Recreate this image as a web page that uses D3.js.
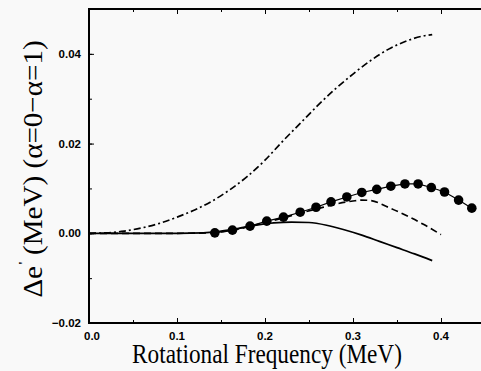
<!DOCTYPE html>
<html>
<head>
<meta charset="utf-8">
<script src="https://cdn.jsdelivr.net/npm/d3@7"></script>
<style>
  html, body { margin: 0; padding: 0; background: #f9f9f9; }
  svg { display: block; }
  .tick-label { font-family: "Liberation Sans", Arial, sans-serif; font-weight: bold; font-size: 11.5px; }
  .axis-title { font-family: "Liberation Serif", "Times New Roman", serif; font-size: 28px; }
</style>
</head>
<body>
<div id="chart"></div>
<script>
// dash-dot curve
const dashDotX = [0, 0.02, 0.04, 0.06, 0.08, 0.10, 0.12, 0.14, 0.16, 0.18, 0.20, 0.22, 0.24, 0.26, 0.28, 0.30, 0.32, 0.34, 0.36, 0.38, 0.39];
const dashDotY = [0, 0.0001, 0.0005, 0.0012, 0.0022, 0.0036, 0.0052, 0.0072, 0.0097, 0.0127, 0.0163, 0.0205, 0.0245, 0.0285, 0.0322, 0.0355, 0.0385, 0.0410, 0.0428, 0.0440, 0.0443];

// solid curve
const solidX = [0, 0.05, 0.10, 0.13, 0.15, 0.17, 0.19, 0.21, 0.23, 0.25, 0.27, 0.29, 0.31, 0.33, 0.35, 0.37, 0.39];
const solidY = [0, 0, 0, 0.0001, 0.0005, 0.0011, 0.0018, 0.0023, 0.0025, 0.0024, 0.0018, 0.0008, -0.0004, -0.0018, -0.0032, -0.0046, -0.0061];

// dashed curve
const dashedX = [0, 0.05, 0.10, 0.14, 0.16, 0.18, 0.20, 0.22, 0.24, 0.26, 0.28, 0.30, 0.31, 0.32, 0.34, 0.36, 0.38, 0.40];
const dashedY = [0, 0, 0, 0.0001, 0.0006, 0.0014, 0.0024, 0.0034, 0.0045, 0.0055, 0.0065, 0.0072, 0.0074, 0.0073, 0.0058, 0.0040, 0.0020, -0.0003];

// experimental points
const dotX = [0.143, 0.163, 0.183, 0.202, 0.221, 0.240, 0.258, 0.275, 0.293, 0.310, 0.327, 0.343, 0.359, 0.374, 0.389, 0.404, 0.420, 0.435];
const dotY = [0.0001, 0.0007, 0.0016, 0.0027, 0.0036, 0.0047, 0.0058, 0.0070, 0.0081, 0.0091, 0.0098, 0.0105, 0.0110, 0.0110, 0.0102, 0.0092, 0.0074, 0.0056];

const xTicks = [0.0, 0.1, 0.2, 0.3, 0.4];
const yTicks = [-0.02, 0.00, 0.02, 0.04];

const width = 481, height = 371;
const m = {left: 89, right: 485, top: 9, bottom: 323};

const svg = d3.select('#chart')
  .append('svg')
  .attr('width', width)
  .attr('height', height);

const xScale = d3.scaleLinear().domain([0, 0.45]).range([m.left, m.right]);
const yScale = d3.scaleLinear().domain([-0.02, 0.05]).range([m.bottom, m.top]);

const fmtX = d3.format('.1f');
const fmtY = d3.format('.2f');

// axes, ticks pointing inward
const minorX = d3.range(0, 0.451, 0.05);
const minorY = d3.range(-0.02, 0.0501, 0.01);

const addTicks = (axis, tx, ty, values, size) => {
  svg.append('g')
    .attr('transform', `translate(${tx}, ${ty})`)
    .call(axis.tickValues(values).tickSize(size).tickFormat(''))
    .call((g) => g.select('.domain').remove());
};
addTicks(d3.axisTop(xScale), 0, m.bottom, minorX, 3);
addTicks(d3.axisTop(xScale), 0, m.bottom, xTicks, 5);
addTicks(d3.axisBottom(xScale), 0, m.top, minorX, 3);
addTicks(d3.axisBottom(xScale), 0, m.top, xTicks, 5);
addTicks(d3.axisRight(yScale), m.left, 0, minorY, 3);
addTicks(d3.axisRight(yScale), m.left, 0, yTicks, 5);

svg.selectAll('.tick line').attr('stroke', '#000').attr('stroke-width', 1);

// frame
svg.append('rect')
  .attr('x', m.left)
  .attr('y', m.top)
  .attr('width', m.right - m.left)
  .attr('height', m.bottom - m.top)
  .attr('fill', 'none')
  .attr('stroke', '#000')
  .attr('stroke-width', 2);

// tick labels
svg.selectAll('.xlab')
  .data(xTicks)
  .enter()
  .append('text')
  .attr('class', 'tick-label')
  .attr('x', (d) => xScale(d) + (d === 0 ? 3 : 0))
  .attr('y', m.bottom + 17)
  .attr('text-anchor', 'middle')
  .text((d) => fmtX(d));

svg.selectAll('.ylab')
  .data(yTicks)
  .enter()
  .append('text')
  .attr('class', 'tick-label')
  .attr('x', m.left - 8)
  .attr('y', (d) => yScale(d) + 4)
  .attr('text-anchor', 'end')
  .text((d) => fmtY(d));

// curves
const line = d3.line()
  .x((d) => xScale(d[0]))
  .y((d) => yScale(d[1]))
  .curve(d3.curveMonotoneX);

svg.append('path')
  .datum(d3.zip(dashDotX, dashDotY))
  .attr('d', line)
  .attr('fill', 'none')
  .attr('stroke', '#000')
  .attr('stroke-width', 1.7)
  .attr('stroke-dasharray', '7,3,2,3');

svg.append('path')
  .datum(d3.zip(solidX, solidY))
  .attr('d', line)
  .attr('fill', 'none')
  .attr('stroke', '#000')
  .attr('stroke-width', 1.7);

svg.append('path')
  .datum(d3.zip(dashedX, dashedY))
  .attr('d', line)
  .attr('fill', 'none')
  .attr('stroke', '#000')
  .attr('stroke-width', 1.7)
  .attr('stroke-dasharray', '7,4');

const dots = d3.zip(dotX, dotY);
svg.append('path')
  .datum(dots)
  .attr('d', d3.line().x((d) => xScale(d[0])).y((d) => yScale(d[1])))
  .attr('fill', 'none')
  .attr('stroke', '#000')
  .attr('stroke-width', 1.2);

svg.selectAll('.dot')
  .data(dots)
  .enter()
  .append('circle')
  .attr('cx', (d) => xScale(d[0]))
  .attr('cy', (d) => yScale(d[1]))
  .attr('r', 4.8)
  .attr('fill', '#000');

// axis titles, narrowed like the condensed serif of the original
const fitWidth = (el, target) => el.node().getComputedTextLength() ? target / el.node().getComputedTextLength() : 1;

const xTitle = svg.append('text')
  .attr('class', 'axis-title')
  .attr('text-anchor', 'middle')
  .text('Rotational Frequency (MeV)');
xTitle.attr('transform', `translate(267, 363) scale(${fitWidth(xTitle, 270)}, 1)`);

const yTitle = svg.append('text')
  .attr('class', 'axis-title')
  .attr('font-size', 26)
  .attr('text-anchor', 'middle');
yTitle.append('tspan').text('\u0394e');
yTitle.append('tspan').attr('dy', -15).attr('dx', 1).attr('font-size', 13).attr('font-weight', 'bold').text('\'');
yTitle.append('tspan').attr('dy', 15).attr('dx', 6).text('(MeV) (\u03B1=0\u2212\u03B1=1)');
yTitle.attr('transform', `translate(42, 169) rotate(-90) scale(${fitWidth(yTitle, 250)}, 1)`);
</script>
</body>
</html>
